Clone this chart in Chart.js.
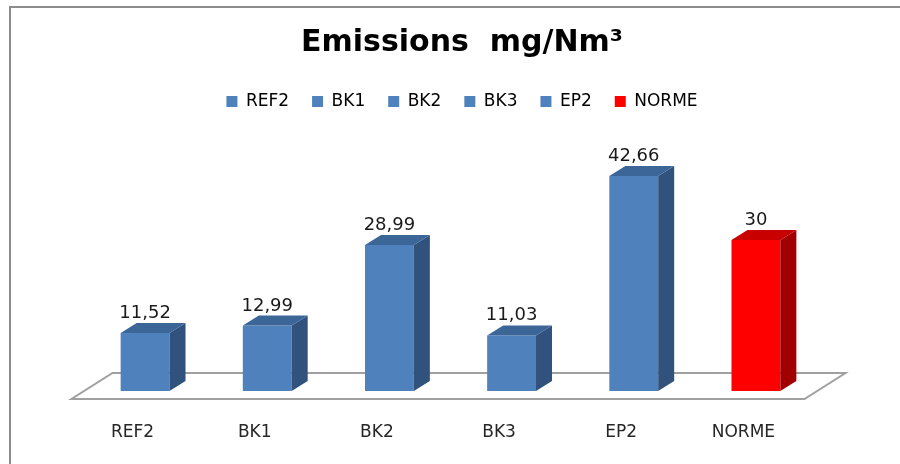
<!DOCTYPE html>
<html>
<head>
<meta charset="utf-8">
<script src="https://cdn.jsdelivr.net/npm/chart.js@4"></script>
<style>
  html, body { margin: 0; padding: 0; background: #fff; }
  #wrap { width: 900px; height: 464px; }
</style>
</head>
<body>
<div id="wrap"><canvas id="emissionsChart" width="900" height="464"></canvas></div>
<script>
const categories = ['REF2', 'BK1', 'BK2', 'BK3', 'EP2', 'NORME'];
const emissions = [11.52, 12.99, 28.99, 11.03, 42.66, 30];

// front / top / side shades, last bar is the limit value
const blue = { front: '#4f81bd', top: '#3c6698', side: '#30527d' };
const red = { front: '#ff0000', top: '#c80000', side: '#a00000' };
const shadeOf = i => categories[i] === 'NORME' ? red : blue;

const frame = {
  id: 'frame',
  beforeDraw(chart) {
    const c = chart.ctx;
    c.save();
    c.fillStyle = '#fff';
    c.fillRect(0, 0, chart.width, chart.height);
    c.strokeStyle = '#8c8c8c';
    c.lineWidth = 2;
    c.strokeRect(10, 7, chart.width + 20, chart.height + 20);
    c.restore();
  }
};

const box3d = {
  id: 'box3d',
  beforeDatasetsDraw(chart) {
    // floor under the bars
    const { left, right, bottom } = chart.chartArea;
    const c = chart.ctx;
    const sh = 12.5, fy = bottom + 8;
    c.save();
    c.beginPath();
    c.moveTo(left - sh, fy);
    c.lineTo(right - sh, fy);
    c.lineTo(right - sh + 41, fy - 26);
    c.lineTo(left - sh + 41, fy - 26);
    c.closePath();
    c.fillStyle = '#fff';
    c.fill();
    c.strokeStyle = '#a0a0a0';
    c.lineWidth = 2;
    c.stroke();
    c.restore();
  },
  afterDatasetsDraw(chart) {
    const c = chart.ctx;
    const dx = 16, dy = -10;
    c.save();
    chart.getDatasetMeta(0).data.forEach((bar, i) => {
      const { x, y, base, width } = bar.getProps(['x', 'y', 'base', 'width'], true);
      const l = x - width / 2, r = x + width / 2;
      const s = shadeOf(i);
      c.fillStyle = s.side;
      c.beginPath();
      c.moveTo(r, y); c.lineTo(r + dx, y + dy); c.lineTo(r + dx, base + dy); c.lineTo(r, base);
      c.closePath(); c.fill();
      c.fillStyle = s.top;
      c.beginPath();
      c.moveTo(l, y); c.lineTo(l + dx, y + dy); c.lineTo(r + dx, y + dy); c.lineTo(r, y);
      c.closePath(); c.fill();

      c.fillStyle = '#1a1a1a';
      c.font = '18px "DejaVu Sans"';
      c.textAlign = 'center';
      c.textBaseline = 'alphabetic';
      c.fillText(String(emissions[i]).replace('.', ','), x, y - 15);
    });
    c.restore();
  }
};

const hiddenAxis = (pos, w) => ({
  position: pos,
  min: 0,
  max: 53.8,
  display: true,
  ticks: { display: false },
  grid: { display: false, drawTicks: false },
  border: { display: false },
  afterFit: s => { s.width = w; }
});

new Chart(document.getElementById('emissionsChart'), {
  type: 'bar',
  data: {
    labels: categories,
    datasets: [{
      label: 'Emissions',
      data: emissions,
      backgroundColor: emissions.map((_, i) => shadeOf(i).front),
      borderWidth: 0,
      categoryPercentage: 1,
      barPercentage: 0.4
    }]
  },
  options: {
    responsive: false,
    animation: false,
    layout: { padding: { left: 48, right: 24, top: 25, bottom: 21 } },
    scales: {
      x: {
        grid: { display: false, drawTicks: false },
        border: { display: false },
        ticks: {
          color: '#262626',
          font: { family: 'DejaVu Sans', size: 17 },
          padding: 31,
          labelOffset: -12.5
        },
        afterFit: s => { s.height = 52; }
      },
      y: hiddenAxis('left', 36),
      y2: hiddenAxis('right', 59)
    },
    plugins: {
      title: {
        display: true,
        text: 'Emissions  mg/Nm³',
        color: '#000',
        font: { family: 'DejaVu Sans', size: 30, weight: 'bold' },
        padding: { top: 0, bottom: 9 }
      },
      legend: {
        labels: {
          color: '#262626',
          font: { family: 'DejaVu Sans', size: 17 },
          boxWidth: 11,
          boxHeight: 11,
          padding: 23,
          generateLabels: () => categories.map((name, i) => ({
            text: name,
            fillStyle: shadeOf(i).front,
            strokeStyle: shadeOf(i).front,
            lineWidth: 0,
            index: i
          }))
        }
      },
      tooltip: { enabled: false }
    }
  },
  plugins: [frame, box3d]
});
</script>
</body>
</html>
